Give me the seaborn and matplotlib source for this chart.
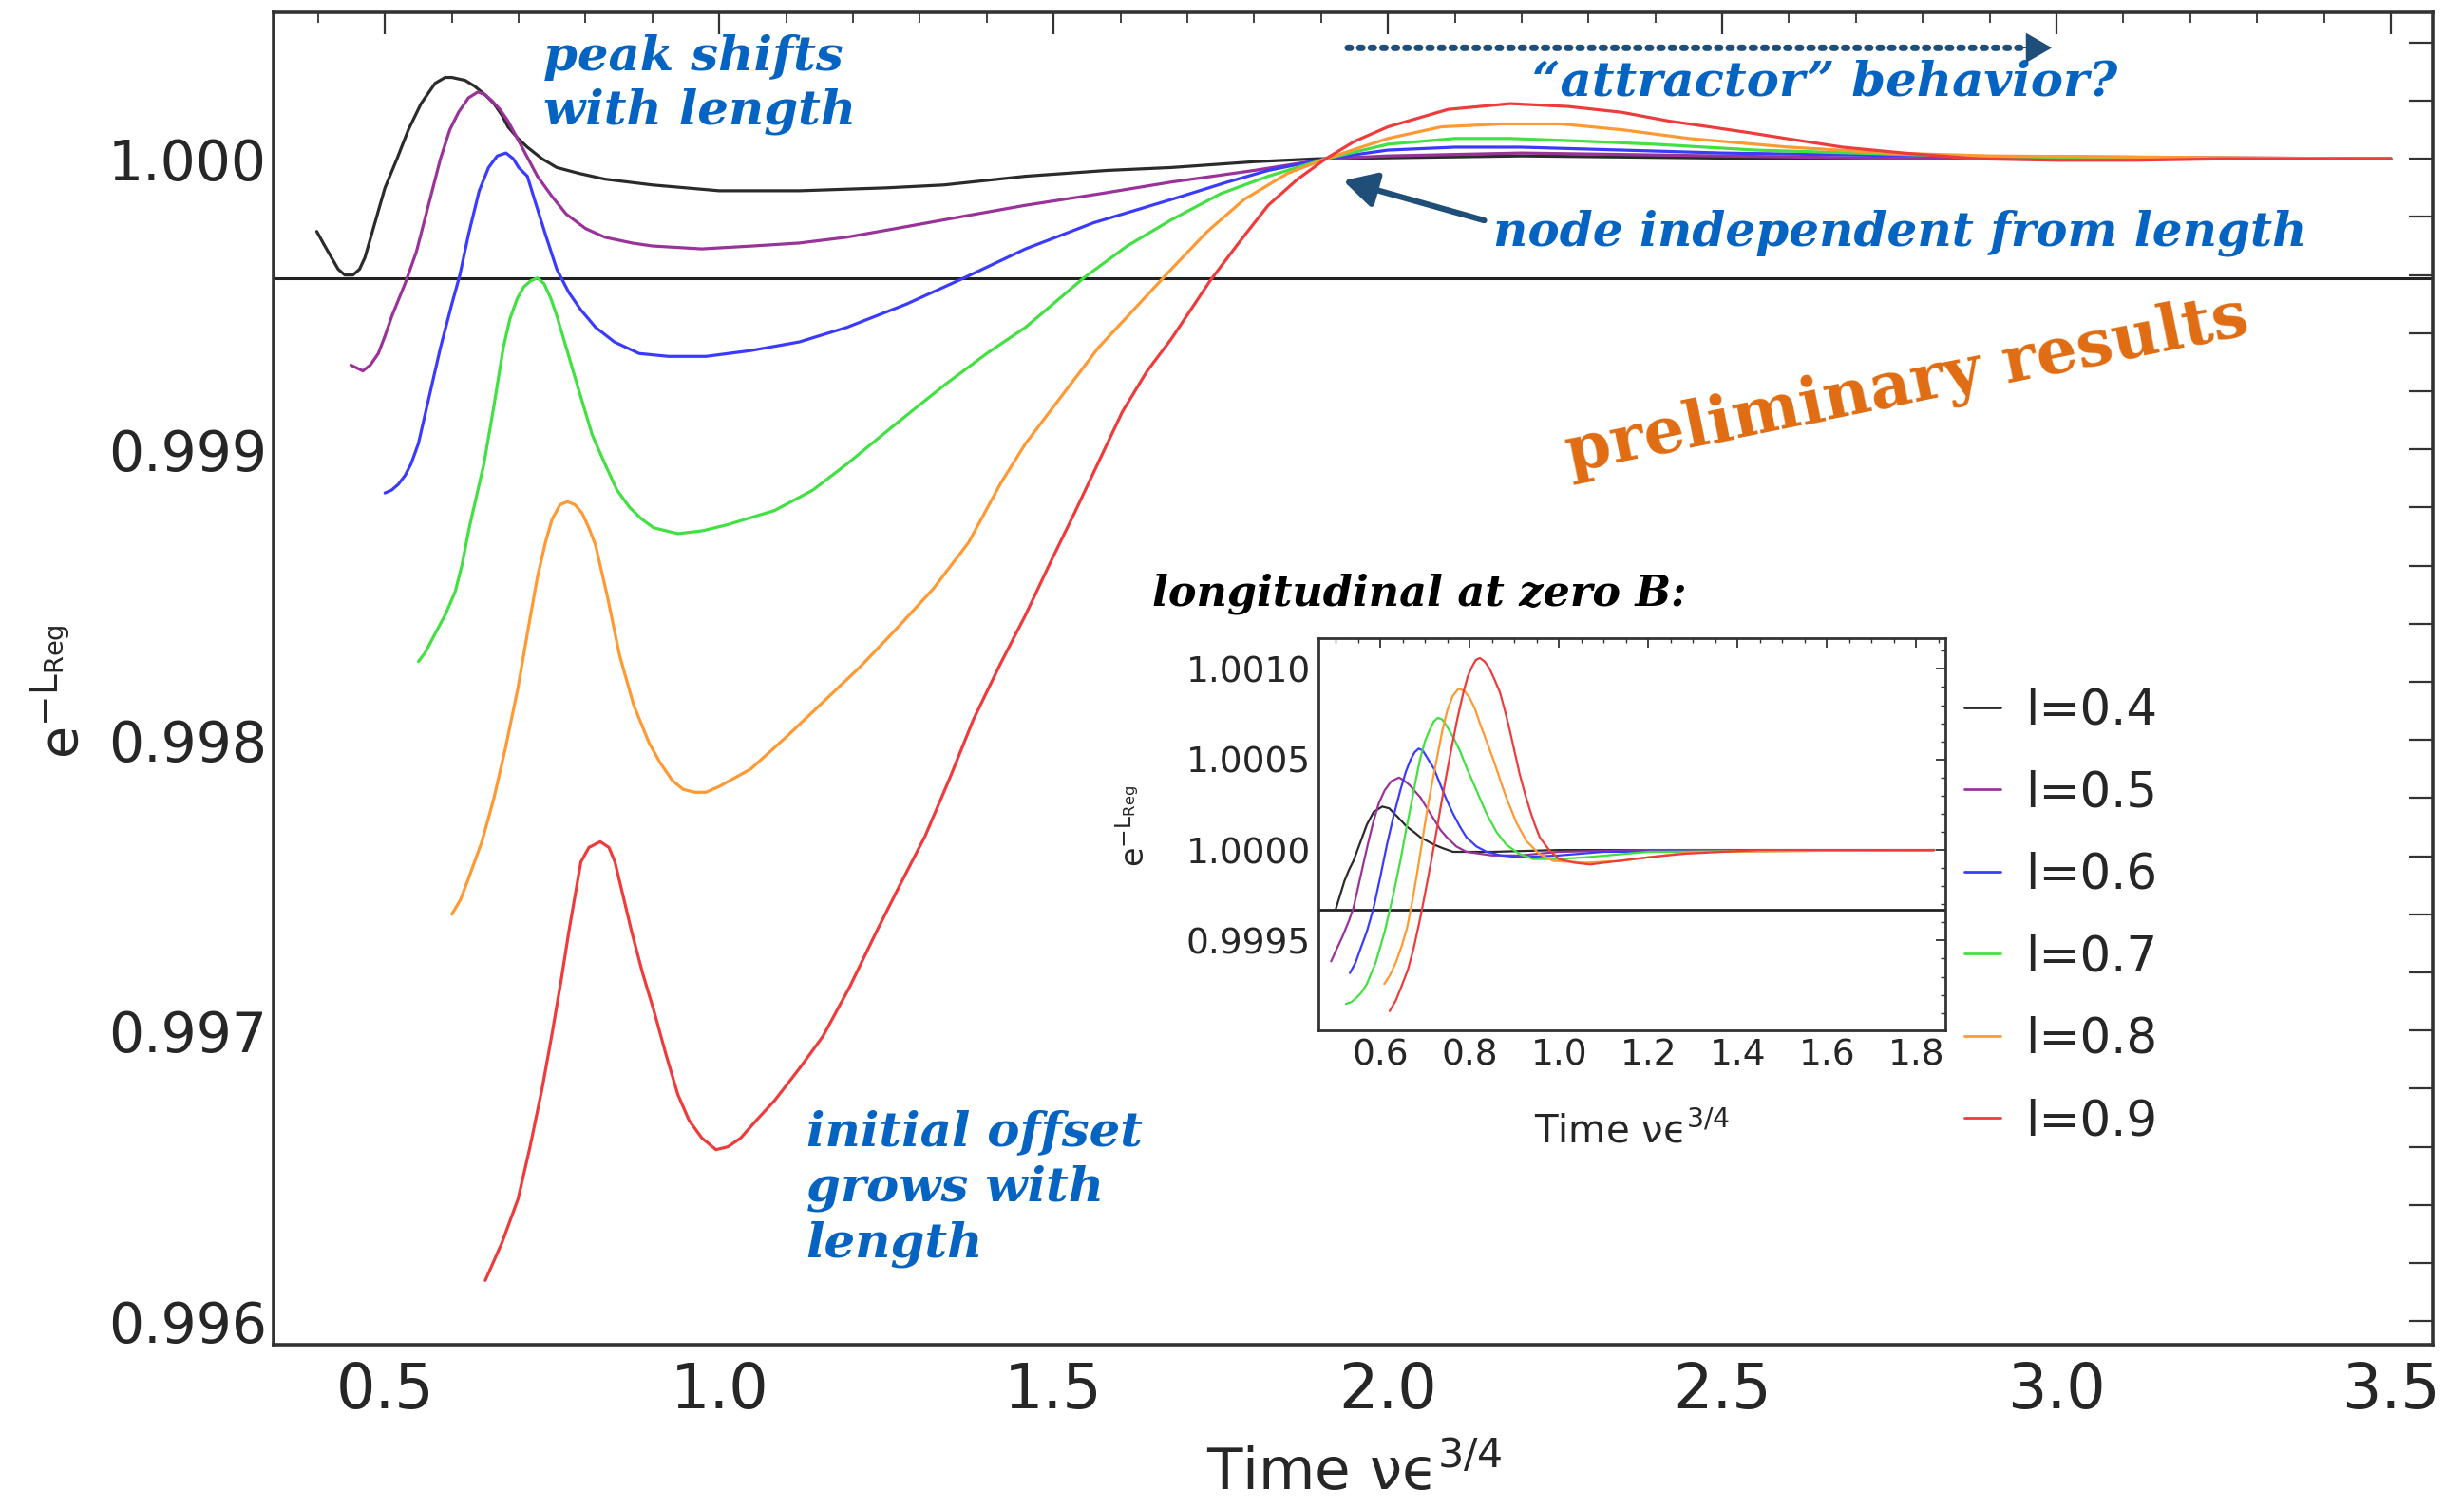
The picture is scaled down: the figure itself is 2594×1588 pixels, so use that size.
import numpy as np
import pandas as pd
import matplotlib
matplotlib.use("Agg")
import matplotlib.pyplot as plt
from matplotlib.ticker import MultipleLocator, FormatStrFormatter
import seaborn as sns

# ---------------------------------------------------------------- data
lengths = ["l=0.4", "l=0.5", "l=0.6", "l=0.7", "l=0.8", "l=0.9"]
line_colors = ["#2b2b2b", "#993399", "#3b3bff", "#42e042", "#ff9933", "#ee3b3b"]

# main panel: e^{-L_Reg} versus time
t_04 = [0.398, 0.41, 0.42, 0.43, 0.44, 0.452, 0.462, 0.47, 0.485, 0.50, 0.518, 0.535, 0.554, 0.575,
        0.59, 0.60, 0.62, 0.634, 0.65, 0.663, 0.675, 0.684, 0.699, 0.713, 0.735, 0.757, 0.79, 0.829,
        0.90, 1.0, 1.12, 1.25, 1.336, 1.458, 1.58, 1.676, 1.80, 1.893, 2.2, 2.6, 3.0, 3.5]
y_04 = [0.99975, 0.99970, 0.99966, 0.99962, 0.99960, 0.99960, 0.99962, 0.99966, 0.99978, 0.99990,
        1.00000, 1.00010, 1.00019, 1.00026, 1.00028, 1.00028, 1.00027, 1.00025, 1.00022, 1.00019,
        1.00015, 1.00011, 1.00007, 1.00004, 1.00000, 0.99997, 0.99995, 0.99993, 0.99991, 0.99989,
        0.99989, 0.99990, 0.99991, 0.99994, 0.99996, 0.99997, 0.99999, 1.00000, 1.00001, 1.00000,
        1.00000, 1.00000]

t_05 = [0.449, 0.458, 0.467, 0.478, 0.49, 0.50, 0.5105, 0.53, 0.547, 0.565, 0.583, 0.597, 0.61,
        0.625, 0.639, 0.65, 0.66, 0.672, 0.684, 0.705, 0.728, 0.75, 0.771, 0.80, 0.829, 0.87, 0.90,
        0.974, 1.05, 1.119, 1.19, 1.264, 1.36, 1.458, 1.57, 1.676, 1.80, 1.91, 2.0, 2.2, 2.5, 2.8,
        3.5]
y_05 = [0.99929, 0.99928, 0.99927, 0.99929, 0.99933, 0.99939, 0.99946, 0.99957, 0.99968, 0.99984,
        1.00000, 1.00010, 1.00016, 1.00021, 1.00023, 1.00022, 1.00020, 1.00017, 1.00013, 1.00004,
        0.99994, 0.99987, 0.99981, 0.99976, 0.99973, 0.99971, 0.99970, 0.99969, 0.99970, 0.99971,
        0.99973, 0.99976, 0.99980, 0.99984, 0.99988, 0.99992, 0.99996, 1.00000, 1.00001, 1.00002,
        1.00001, 1.00000, 1.00000]

t_06 = [0.50, 0.51, 0.52, 0.53, 0.539, 0.55, 0.56, 0.57, 0.583, 0.60, 0.612, 0.625, 0.641, 0.655,
        0.668, 0.681, 0.692, 0.70, 0.713, 0.725, 0.74, 0.757, 0.775, 0.793, 0.815, 0.843, 0.88,
        0.924, 0.98, 1.047, 1.12, 1.191, 1.28, 1.366, 1.458, 1.56, 1.676, 1.76, 1.821, 1.907, 2.0,
        2.1, 2.2, 2.35, 2.5, 2.8, 3.5]
y_06 = [0.99885, 0.99886, 0.99888, 0.99891, 0.99895, 0.99902, 0.99912, 0.99922, 0.99935, 0.99950,
        0.99960, 0.99974, 0.99989, 0.99997, 1.00001, 1.00002, 1.00000, 0.99997, 0.99994, 0.99985,
        0.99974, 0.99962, 0.99954, 0.99948, 0.99942, 0.99937, 0.99933, 0.99932, 0.99932, 0.99934,
        0.99937, 0.99942, 0.99950, 0.99959, 0.99969, 0.99978, 0.99986, 0.99992, 0.99996, 1.00000,
        1.00003, 1.00004, 1.00004, 1.00003, 1.00002, 1.00001, 1.00000]

t_07 = [0.550, 0.56, 0.576, 0.59, 0.605, 0.615, 0.626, 0.637, 0.648, 0.663, 0.677, 0.687, 0.698,
        0.708, 0.718, 0.728, 0.738, 0.748, 0.757, 0.775, 0.793, 0.81, 0.829, 0.847, 0.866, 0.884,
        0.902, 0.938, 0.975, 1.011, 1.083, 1.14, 1.191, 1.26, 1.336, 1.40, 1.458, 1.545, 1.61,
        1.676, 1.75, 1.821, 1.907, 2.0, 2.1, 2.183, 2.3, 2.4, 2.55, 2.7, 3.0, 3.5]
y_07 = [0.99827, 0.99830, 0.99837, 0.99843, 0.99851, 0.99860, 0.99873, 0.99884, 0.99895, 0.99915,
        0.99935, 0.99945, 0.99952, 0.99956, 0.99958, 0.99959, 0.99957, 0.99952, 0.99946, 0.99932,
        0.99918, 0.99905, 0.99895, 0.99886, 0.99880, 0.99876, 0.99873, 0.99871, 0.99872, 0.99874,
        0.99879, 0.99886, 0.99895, 0.99908, 0.99922, 0.99933, 0.99942, 0.99959, 0.99970, 0.99979,
        0.99988, 0.99994, 1.00000, 1.00005, 1.00007, 1.00007, 1.00006, 1.00005, 1.00003, 1.00002,
        1.00000, 1.00000]

t_08 = [0.60, 0.613, 0.626, 0.645, 0.663, 0.68, 0.699, 0.714, 0.728, 0.74, 0.75, 0.762, 0.773,
        0.784, 0.795, 0.805, 0.815, 0.833, 0.851, 0.872, 0.895, 0.912, 0.93, 0.946, 0.963, 0.98,
        1.0, 1.047, 1.10, 1.155, 1.21, 1.264, 1.32, 1.373, 1.42, 1.458, 1.567, 1.676, 1.73, 1.785,
        1.85, 1.907, 2.0, 2.08, 2.169, 2.26, 2.35, 2.45, 2.6, 2.75, 2.9, 3.5]
y_08 = [0.99740, 0.99745, 0.99753, 0.99765, 0.99780, 0.99797, 0.99818, 0.99838, 0.99856, 0.99868,
        0.99876, 0.99881, 0.99882, 0.99881, 0.99878, 0.99873, 0.99867, 0.99849, 0.99829, 0.99812,
        0.99799, 0.99792, 0.99786, 0.99783, 0.99782, 0.99782, 0.99784, 0.99790, 0.99801, 0.99813,
        0.99825, 0.99838, 0.99852, 0.99868, 0.99888, 0.99902, 0.99935, 0.99962, 0.99975, 0.99986,
        0.99995, 1.00000, 1.00007, 1.00011, 1.00012, 1.00012, 1.00010, 1.00007, 1.00004, 1.00002,
        1.00001, 1.00000]

t_09 = [0.650, 0.675, 0.699, 0.717, 0.735, 0.75, 0.764, 0.775, 0.793, 0.805, 0.822, 0.835, 0.844,
        0.869, 0.885, 0.902, 0.92, 0.938, 0.955, 0.974, 0.995, 1.013, 1.032, 1.055, 1.083, 1.12,
        1.155, 1.195, 1.235, 1.27, 1.308, 1.345, 1.380, 1.42, 1.458, 1.495, 1.531, 1.57, 1.603,
        1.64, 1.676, 1.705, 1.734, 1.78, 1.821, 1.865, 1.907, 1.95, 2.0, 2.09, 2.183, 2.27, 2.35,
        2.42, 2.481, 2.54, 2.595, 2.68, 2.771, 2.88, 3.0, 3.12, 3.25, 3.5]
y_09 = [0.99614, 0.99627, 0.99642, 0.99660, 0.99680, 0.99699, 0.99718, 0.99734, 0.99758, 0.99763,
        0.99765, 0.99763, 0.99758, 0.99734, 0.99720, 0.99707, 0.99692, 0.99678, 0.99669, 0.99663,
        0.99659, 0.99660, 0.99663, 0.99669, 0.99676, 0.99687, 0.99698, 0.99715, 0.99734, 0.99750,
        0.99767, 0.99787, 0.99807, 0.99826, 0.99843, 0.99861, 0.99878, 0.99897, 0.99913, 0.99927,
        0.99938, 0.99948, 0.99958, 0.99972, 0.99984, 0.99993, 1.00000, 1.00006, 1.00011, 1.00017,
        1.00019, 1.00018, 1.00016, 1.00013, 1.00011, 1.00009, 1.00007, 1.00004, 1.00002, 1.00000,
        0.999995, 0.999995, 1.00000, 1.00000]

# inset: longitudinal case at zero field
ti_04 = [0.50, 0.51, 0.52, 0.53, 0.54, 0.555, 0.57, 0.585, 0.6045, 0.62, 0.64, 0.659, 0.675, 0.69,
         0.72, 0.74, 0.763, 0.85, 1.0, 1.4, 1.84]
yi_04 = [0.99967, 0.99975, 0.99983, 0.99989, 0.99994, 1.00004, 1.00014, 1.00021, 1.00024, 1.00023,
         1.00018, 1.00013, 1.00010, 1.00007, 1.00003, 1.00001, 0.99999, 0.99999, 1.00000, 1.00000,
         1.00000]
ti_05 = [0.49, 0.50, 0.515, 0.53, 0.54, 0.55, 0.56, 0.572, 0.585, 0.597, 0.61, 0.625, 0.642, 0.655,
         0.665, 0.69, 0.705, 0.72, 0.735, 0.749, 0.77, 0.793, 0.85, 0.912, 1.0, 1.2, 1.84]
yi_05 = [0.999385, 0.99944, 0.99952, 0.99961, 0.99968, 0.99979, 0.99990, 1.00003, 1.00016, 1.00026,
         1.00033, 1.00038, 1.00040, 1.00038, 1.00036, 1.00029, 1.00023, 1.00017, 1.00011, 1.00007,
         1.00002, 0.99999, 0.99997, 0.99997, 0.99999, 1.00000, 1.00000]
ti_06 = [0.532, 0.545, 0.555, 0.57, 0.585, 0.60, 0.615, 0.63, 0.645, 0.657, 0.668, 0.677, 0.686,
         0.695, 0.705, 0.72, 0.733, 0.748, 0.763, 0.778, 0.793, 0.815, 0.838, 0.87, 0.912, 1.0, 1.1,
         1.84]
yi_06 = [0.99932, 0.99938, 0.99945, 0.99955, 0.99968, 0.99985, 1.00003, 1.00019, 1.00033, 1.00043,
         1.00050, 1.00054, 1.00056, 1.00055, 1.00051, 1.00045, 1.00037, 1.00028, 1.00020, 1.00013,
         1.00007, 1.00002, 0.99999, 0.99997, 0.99996, 0.99997, 0.99999, 1.00000]
ti_07 = [0.523, 0.535, 0.545, 0.557, 0.570, 0.59, 0.61, 0.628, 0.645, 0.657, 0.669, 0.679, 0.689,
         0.70, 0.71, 0.72, 0.729, 0.739, 0.75, 0.764, 0.778, 0.794, 0.81, 0.824, 0.838, 0.86, 0.882,
         0.91, 0.942, 1.0, 1.06, 1.2, 1.84]
yi_07 = [0.99915, 0.99916, 0.99918, 0.99921, 0.99926, 0.99938, 0.99955, 0.99974, 0.99994, 1.00010,
         1.00025, 1.00038, 1.00050, 1.00060, 1.00066, 1.00071, 1.00073, 1.00072, 1.00068, 1.00062,
         1.00055, 1.00045, 1.00036, 1.00028, 1.00020, 1.00010, 1.00003, 0.99998, 0.99995, 0.99995,
         0.99996, 0.99999, 1.00000]
ti_08 = [0.609, 0.622, 0.635, 0.648, 0.66, 0.672, 0.683, 0.694, 0.705, 0.716, 0.728, 0.739, 0.75,
         0.762, 0.775, 0.788, 0.80, 0.812, 0.823, 0.838, 0.853, 0.868, 0.882, 0.905, 0.927, 0.955,
         0.987, 1.06, 1.136, 1.3, 1.84]
yi_08 = [0.99926, 0.99931, 0.99938, 0.99947, 0.99957, 0.99972, 0.99988, 1.00005, 1.00022, 1.00037,
         1.00052, 1.00066, 1.00077, 1.00085, 1.00089, 1.00088, 1.00084, 1.00078, 1.00070, 1.00060,
         1.00050, 1.00039, 1.00029, 1.00015, 1.00005, 0.99998, 0.99994, 0.99993, 0.99994, 0.99999,
         1.00000]
ti_09 = [0.621, 0.635, 0.648, 0.662, 0.675, 0.69, 0.705, 0.72, 0.734, 0.747, 0.76, 0.773, 0.786,
         0.796, 0.805, 0.814, 0.823, 0.834, 0.845, 0.856, 0.868, 0.879, 0.89, 0.901, 0.912, 0.924,
         0.935, 0.946, 0.957, 0.978, 1.0, 1.035, 1.07, 1.1, 1.136, 1.2, 1.284, 1.45, 1.84]
yi_09 = [0.99911, 0.99917, 0.99925, 0.99934, 0.99946, 0.99963, 0.99982, 1.00002, 1.00022, 1.00040,
         1.00057, 1.00073, 1.00087, 1.00096, 1.00101, 1.00105, 1.00106, 1.00104, 1.00100, 1.00094,
         1.00087, 1.00077, 1.00066, 1.00054, 1.00042, 1.00031, 1.00022, 1.00014, 1.00007, 1.00000,
         0.99995, 0.99993, 0.99992, 0.99993, 0.99994, 0.99996, 0.99998, 1.00000, 1.00000]

main_baseline = 0.99959
inset_baseline = 0.99967

main_xticks = [0.5, 1.0, 1.5, 2.0, 2.5, 3.0, 3.5]
main_yticks = [0.996, 0.997, 0.998, 0.999, 1.000]
inset_xticks = [0.6, 0.8, 1.0, 1.2, 1.4, 1.6, 1.8]
inset_yticks = [0.9995, 1.0000, 1.0005, 1.0010]


def long_table(ts, ys):
    frames = []
    for lab, t, y in zip(lengths, ts, ys):
        frames.append(pd.DataFrame({"t": t, "value": y, "length": lab}))
    return pd.concat(frames, ignore_index=True)


df_main = long_table([t_04, t_05, t_06, t_07, t_08, t_09], [y_04, y_05, y_06, y_07, y_08, y_09])
df_inset = long_table([ti_04, ti_05, ti_06, ti_07, ti_08, ti_09],
                      [yi_04, yi_05, yi_06, yi_07, yi_08, yi_09])
palette = dict(zip(lengths, line_colors))

# ---------------------------------------------------------------- style
sns.set_style("white")
plt.rcParams["font.family"] = ["DejaVu Sans"]
NARROW = ["Liberation Sans Narrow", "DejaVu Sans"]
NOTE_BLUE = "#0563c1"
ARROW_BLUE = "#1f4e79"
FRAME = "#333333"

W, H = 2594, 1588
fig = plt.figure(figsize=(W / 100, H / 100), dpi=100)
fig.patch.set_facecolor("white")

# ---------------------------------------------------------------- main panel
ax = fig.add_axes([288 / W, 1 - 1416 / H, (2561 - 288) / W, (1416 - 13) / H])
sns.lineplot(data=df_main, x="t", y="value", hue="length", palette=palette, sort=False,
             estimator=None, legend=False, linewidth=2.3, ax=ax)
for ln in ax.get_lines():
    ln.set_solid_joinstyle("round")
ax.axhline(main_baseline, color="#222222", lw=2.2, zorder=1)
ax.set_xlim(0.3334, 3.5625)
ax.set_ylim(0.995919, 1.000504)

ax.set_xticks(main_xticks)
ax.set_yticks(main_yticks)
ax.xaxis.set_minor_locator(MultipleLocator(0.1))
ax.yaxis.set_minor_locator(MultipleLocator(0.0002))
ax.xaxis.set_major_formatter(FormatStrFormatter("%.1f"))
ax.yaxis.set_major_formatter(FormatStrFormatter("%.3f"))
ax.tick_params(axis="x", which="major", direction="in", length=8.6, width=1.6, color=FRAME,
               pad=12, labelsize=47)
ax.tick_params(axis="x", which="minor", direction="in", length=4.3, width=1.3, color=FRAME)
ax.tick_params(axis="y", which="both", direction="in", length=8.6, width=1.5, color=FRAME,
               pad=5, labelsize=42)
for lab in ax.get_xticklabels():
    lab.set_family(NARROW)
for sp in ax.spines.values():
    sp.set_color(FRAME)
    sp.set_linewidth(2.6)

secx = ax.secondary_xaxis("top")
secx.xaxis.set_major_locator(MultipleLocator(0.5))
secx.xaxis.set_minor_locator(MultipleLocator(0.1))
secx.tick_params(which="major", direction="in", length=16.5, width=1.6, color=FRAME, labeltop=False)
secx.tick_params(which="minor", direction="in", length=8, width=1.3, color=FRAME)
secx.spines["top"].set_visible(False)
secy = ax.secondary_yaxis("right")
secy.yaxis.set_major_locator(MultipleLocator(0.001))
secy.yaxis.set_minor_locator(MultipleLocator(0.0002))
secy.tick_params(which="both", direction="in", length=18, width=1.6, color=FRAME, labelright=False)
secy.spines["right"].set_visible(False)

ax.set_xlabel("Time νϵ$\\mathregular{^{3/4}}$", fontsize=44, family=NARROW, va="center")
ax.xaxis.set_label_coords(0.5007, -0.097)
ax.set_ylabel("$\\mathregular{e^{-L_{Reg}}}$", fontsize=40, va="center")
ax.yaxis.set_label_coords(-0.0977, 0.49)

# ---------------------------------------------------------------- annotations
note = dict(color=NOTE_BLUE, family="DejaVu Serif", weight="bold", style="italic", fontsize=37)
ax.text(0.737, 1.000257, "peak shifts\nwith length", ha="left", va="center", linespacing=1.2,
        **note)
ax.text(2.216, 1.000262, "\u201cattractor\u201d behavior?", ha="left", va="center", **note)
ax.text(2.157, 0.999745, "node independent from length", ha="left", va="center",
        **{**note, "fontsize": 36})
ax.text(1.130, 0.996455, "initial offset\ngrows with\nlength", ha="left", va="center",
        linespacing=1.25, **note)
ax.text(2.777, 0.999216, "preliminary results", ha="center", va="center", rotation=11.5,
        rotation_mode="anchor", color="#e06c12", family="DejaVu Serif", weight="bold",
        fontsize=49)

# dotted guide toward large times, with a solid head at its end
ax.annotate("", xy=(2.956, 1.000382), xytext=(1.940, 1.000382),
            arrowprops=dict(arrowstyle="-", color=ARROW_BLUE, lw=5,
                            linestyle=(0, (0.45, 1.3)), shrinkA=0, shrinkB=0))
ax.annotate("", xy=(2.993, 1.000382), xytext=(2.945, 1.000382),
            arrowprops=dict(arrowstyle="-|>,head_length=1.3,head_width=0.75", color=ARROW_BLUE,
                            lw=1.0, shrinkA=0, shrinkB=0, mutation_scale=14))
# solid arrow pointing at the common node
ax.annotate("", xy=(1.933, 0.999925), xytext=(2.144, 0.999788),
            arrowprops=dict(arrowstyle="-|>,head_length=1.3,head_width=0.7", color=ARROW_BLUE,
                            lw=4.5, shrinkA=0, shrinkB=0, mutation_scale=16))

# ---------------------------------------------------------------- inset
ax_in = fig.add_axes([1388 / W, 1 - 1085 / H, 660 / W, 413 / H])
ax_in.set_facecolor("white")
sns.lineplot(data=df_inset, x="t", y="value", hue="length", palette=palette, sort=False,
             estimator=None, linewidth=1.6, ax=ax_in)
ax_in.axhline(inset_baseline, color="#222222", lw=2.0, zorder=1)
ax_in.set_xlim(0.4616, 1.865)
ax_in.set_ylim(0.999004, 1.00117)
ax_in.set_xticks(inset_xticks)
ax_in.set_yticks(inset_yticks)
ax_in.xaxis.set_minor_locator(MultipleLocator(0.05))
ax_in.yaxis.set_minor_locator(MultipleLocator(0.0001))
ax_in.xaxis.set_major_formatter(FormatStrFormatter("%.1f"))
ax_in.yaxis.set_major_formatter(FormatStrFormatter("%.4f"))
ax_in.tick_params(which="major", direction="in", length=7, width=1.3, color=FRAME, pad=6,
                  labelsize=27, top=True, right=True)
ax_in.tick_params(which="minor", direction="in", length=3.5, width=1.0, color=FRAME,
                  top=True, right=True)
for lab in ax_in.get_xticklabels() + ax_in.get_yticklabels():
    lab.set_family(NARROW)
for sp in ax_in.spines.values():
    sp.set_color(FRAME)
    sp.set_linewidth(2.0)
ax_in.set_xlabel("Time νϵ$\\mathregular{^{3/4}}$", fontsize=29, family=NARROW, va="center")
ax_in.xaxis.set_label_coords(0.50, -0.26)
ax_in.set_ylabel("$\\mathregular{e^{-L_{Reg}}}$", fontsize=24, va="center")
ax_in.yaxis.set_label_coords(-0.293, 0.52)

sns.move_legend(ax_in, "upper left", bbox_to_anchor=(1.03, 0.875), title=None, frameon=False,
                fontsize=37, handlelength=0.75, handletextpad=0.5, labelspacing=0.71,
                borderaxespad=0, borderpad=0)
leg = ax_in.get_legend()
for txt in leg.get_texts():
    txt.set_family(NARROW)
for ln in leg.get_lines():
    ln.set_linewidth(2.0)

fig.text(1213 / W, 1 - 625 / H, "longitudinal at zero B:", ha="left", va="center",
         family="DejaVu Serif", weight="bold", style="italic", fontsize=32, color="black")

fig.savefig("out.png", dpi=100, facecolor="white")
